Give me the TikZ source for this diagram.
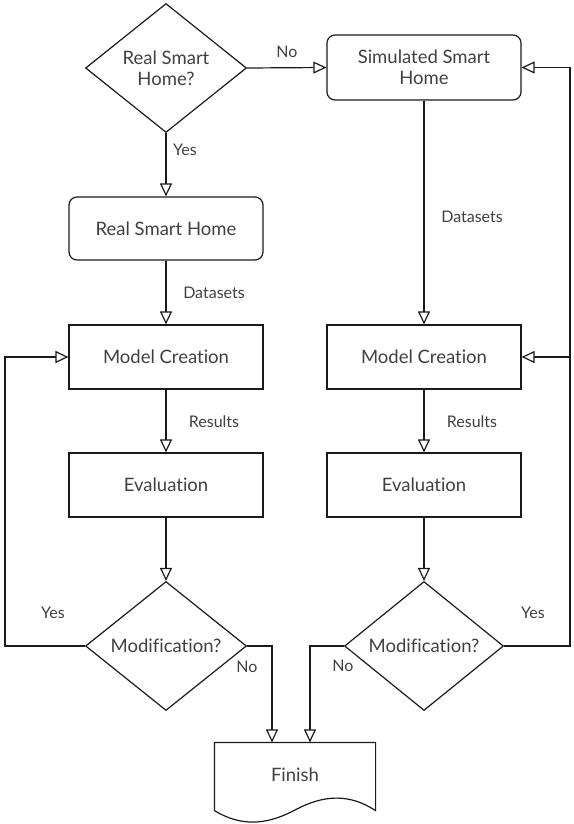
\documentclass[tikz,border=0pt]{standalone}
\usepackage{fontspec}
\setmainfont{Lato}[Ligatures=NoCommon]
\usetikzlibrary{arrows.meta,shapes.geometric}
\definecolor{txt}{HTML}{404040}
\definecolor{ln}{HTML}{1A1A1A}
\begin{document}
\begin{tikzpicture}[x=1pt,y=-1pt,line width=1.2pt,draw=ln,
  box/.style={draw=ln, rectangle, minimum width=194pt, minimum height=64pt, inner sep=0pt, text=txt, font=\fontsize{18.5}{21}\selectfont, align=center},
  rbox/.style={box, rounded corners=8pt},
  dia/.style={draw=ln, diamond, minimum width=161pt, minimum height=129pt, inner sep=0pt, text=txt, font=\fontsize{18.5}{21}\selectfont, align=center},
  lbl/.style={text=txt, font=\fontsize{16}{18}\selectfont, inner sep=0pt},
  arr/.style={-{Triangle[open,length=13pt,width=12pt]}, line join=miter}
]
\useasboundingbox (0,0) rectangle (573,824);
\node[dia] (q1) at (166,68) {Real Smart\\Home?};
\node[rbox, minimum height=65pt] (sim) at (424,67.5) {Simulated Smart\\Home};
\node[rbox, minimum height=63pt] (real) at (166,228.5) {Real Smart Home};
\node[box] (mc1) at (166,357) {Model Creation};
\node[box] (mc2) at (424,357) {Model Creation};
\node[box] (ev1) at (166,485) {Evaluation};
\node[box] (ev2) at (424,485) {Evaluation};
\node[dia] (q2) at (166,646) {Modification?};
\node[dia, minimum width=159pt] (q3) at (424,646) {Modification?};
\node[rectangle, minimum width=160pt, minimum height=67pt, inner sep=0pt, text=txt, font=\fontsize{18.5}{21}\selectfont] (fin) at (295,776.5) {\raisebox{4pt}{Finish}};
\draw (fin.south west) -- (fin.north west) -- (fin.north east) -- (fin.south east)
  .. controls (350,794) and (325,794) .. (295,810)
  .. controls (265,826) and (240,826) .. (fin.south west) -- cycle;
\coordinate (lc) at (5,0);
\coordinate (rc) at (570,0);
\coordinate (f1) at (272,0);
\coordinate (f2) at (310,0);
\draw[arr] (q1.east) -- (sim.west);
\draw[arr] (q1.south) -- (real.north);
\draw[arr] (real.south) -- (mc1.north);
\draw[arr] (sim.south) -- (mc2.north);
\draw[arr] (mc1.south) -- (ev1.north);
\draw[arr] (mc2.south) -- (ev2.north);
\draw[arr] (ev1.south) -- (q2.north);
\draw[arr] (ev2.south) -- (q3.north);
\draw[arr] (q2.west) -- (q2.west -| lc) -- (mc1.west -| lc) -- (mc1.west);
\draw[arr] (q3.east) -- (q3.east -| rc) -- (sim.east -| rc) -- (sim.east);
\draw[arr] (mc2.east -| rc) -- (mc2.east);
\draw[arr] (q2.east) -- (q2.east -| f1) -- (fin.north -| f1);
\draw[arr] (q3.west) -- (q3.west -| f2) -- (fin.north -| f2);
\node[lbl] (lno1) at (287,52) {No};
\node[lbl] (lyes1) at (185,150) {Yes};
\node[lbl] (lds1) at (214,293) {Datasets};
\node[lbl] (lds2) at (472,217) {Datasets};
\node[lbl] (lres1) at (214,422) {Results};
\node[lbl] (lres2) at (472,422) {Results};
\node[lbl] (lyes2) at (53,613) {Yes};
\node[lbl] (lno2) at (247,667) {No};
\node[lbl] (lyes3) at (533,613) {Yes};
\node[lbl] (lno3) at (343,666) {No};
\end{tikzpicture}
\end{document}
